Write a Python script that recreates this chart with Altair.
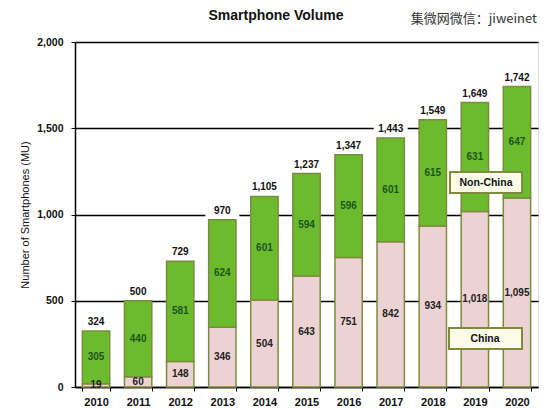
import altair as alt
import pandas as pd

years = [str(y) for y in range(2010, 2021)]
china = [19, 60, 148, 346, 504, 643, 751, 842, 934, 1018, 1095]
non_china = [305, 440, 581, 624, 601, 594, 596, 601, 615, 631, 647]
totals = [324, 500, 729, 970, 1105, 1237, 1347, 1443, 1549, 1649, 1742]
segments = ["China", "Non-China"]
y_ticks = [0, 500, 1000, 1500, 2000]
title_text = ["Smartphone Volume"]
watermark = ["集微网微信：jiweinet"]
y_title = "Number of Smartphones (MU)"

rows = []
for y, c, n in zip(years, china, non_china):
    rows.append({"year": y, "segment": "China", "value": c, "ord": 0, "mid": c / 2})
    rows.append({"year": y, "segment": "Non-China", "value": n, "ord": 1, "mid": c + n / 2})
seg = pd.DataFrame(rows)
tot = pd.DataFrame({"year": years, "total": totals})

FONT = "Liberation Sans"
GREEN = "#6cbb2e"
PINK = "#ecd2d2"
EDGE = "#7d8c3c"

xenc = alt.X("year:N", title=None,
             scale=alt.Scale(paddingInner=0.35, paddingOuter=0.175),
             axis=alt.Axis(labelAngle=0, tickBand="extent", domain=True, domainColor="black",
                           domainWidth=1.5, tickColor="black", tickSize=4, labelPadding=5,
                           labelFont=FONT, labelFontSize=11, labelFontWeight="bold",
                           labelColor="#111"))
yscale = alt.Scale(domain=[0, 2000], nice=False)

bars = alt.Chart(seg).mark_bar(stroke=EDGE, strokeWidth=1.5).encode(
    x=xenc,
    y=alt.Y("value:Q", stack="zero", scale=yscale, title=y_title,
            axis=alt.Axis(values=y_ticks, format=",.0f", grid=True, gridColor="black",
                          gridWidth=1.5, gridOpacity=1, domainColor="black", domainWidth=1.5,
                          tickColor="black", tickSize=4, labelPadding=8,
                          labelFont=FONT, labelFontSize=10.5, labelFontWeight="bold",
                          labelColor="#111", titleFont=FONT, titleFontSize=11,
                          titleFontWeight="normal", titleColor="#111", titlePadding=6)),
    color=alt.Color("segment:N", scale=alt.Scale(domain=segments, range=[PINK, GREEN]), legend=None),
    order=alt.Order("ord:Q"),
)

china_lbl = alt.Chart(seg).transform_filter(alt.datum.segment == "China").mark_text(
    font=FONT, fontSize=10, fontWeight="bold", color="#222", baseline="middle").encode(
    x="year:N", y=alt.Y("mid:Q", scale=yscale), text=alt.Text("value:Q", format=","))

non_lbl = alt.Chart(seg).transform_filter(alt.datum.segment == "Non-China").mark_text(
    font=FONT, fontSize=10, fontWeight="bold", color="#1d551d", baseline="middle").encode(
    x="year:N", y=alt.Y("mid:Q", scale=yscale), text=alt.Text("value:Q", format=","))

tot_bg = alt.Chart(tot).mark_tick(color="white", thickness=14, size=34, yOffset=-9, opacity=1).encode(
    x="year:N", y=alt.Y("total:Q", scale=yscale))

tot_lbl = alt.Chart(tot).mark_text(font=FONT, fontSize=10, fontWeight="bold", color="#111",
                                   dy=-9, baseline="middle").encode(
    x="year:N", y=alt.Y("total:Q", scale=yscale), text=alt.Text("total:Q", format=","))

leg_df = pd.DataFrame({"label": segments})
box_nc = alt.Chart(leg_df).transform_filter(alt.datum.label == "Non-China").mark_rect(
    fill="#fbfbe8", stroke=EDGE, strokeWidth=2).encode(
    x=alt.value(375), x2=alt.value(447), y=alt.value(130), y2=alt.value(151))
txt_nc = alt.Chart(leg_df).transform_filter(alt.datum.label == "Non-China").mark_text(
    font=FONT, fontSize=10.5, fontWeight="bold", color="#111").encode(
    x=alt.value(411), y=alt.value(141), text="label:N")
box_c = alt.Chart(leg_df).transform_filter(alt.datum.label == "China").mark_rect(
    fill="#fbfbe8", stroke=EDGE, strokeWidth=2).encode(
    x=alt.value(374), x2=alt.value(447), y=alt.value(286), y2=alt.value(307))
txt_c = alt.Chart(leg_df).transform_filter(alt.datum.label == "China").mark_text(
    font=FONT, fontSize=10.5, fontWeight="bold", color="#111").encode(
    x=alt.value(410), y=alt.value(297), text="label:N")

ttl = alt.Chart(pd.DataFrame({"t": title_text})).mark_text(
    font=FONT, fontSize=14, fontWeight="bold", color="#111", align="center", baseline="middle").encode(
    x=alt.value(201), y=alt.value(-26), text="t:N")

wm = alt.Chart(pd.DataFrame({"t": watermark})).mark_text(
    font="Noto Sans CJK SC", fontSize=13, color="#333", align="right", baseline="middle").encode(
    x=alt.value(462), y=alt.value(-23), text="t:N")

chart = alt.layer(bars, china_lbl, non_lbl, tot_bg, tot_lbl, box_nc, txt_nc, box_c, txt_c, ttl, wm).properties(
    width=463, height=345,
    autosize=alt.AutoSizeParams(type="none"),
    padding={"left": 67, "top": 34, "right": 4, "bottom": 26},
).configure_view(stroke="black", strokeWidth=1.5).configure(background="white")

chart.save("out.html", embed_options={"renderer": "svg", "actions": False})
